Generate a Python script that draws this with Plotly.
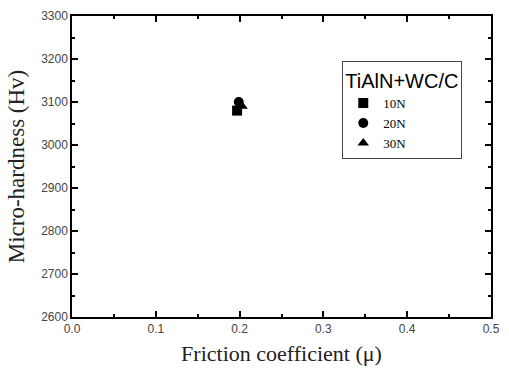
import plotly.graph_objects as go

series_names = ["10N", "20N", "30N"]
friction = [0.197, 0.199, 0.203]
hardness = [3080, 3100, 3090]
symbols = ["square", "circle", "triangle-up"]

x_ticks = [0.0, 0.1, 0.2, 0.3, 0.4, 0.5]
x_labels = ["0.0", "0.1", "0.2", "0.3", "0.4", "0.5"]
y_ticks = [2600, 2700, 2800, 2900, 3000, 3100, 3200, 3300]

fig = go.Figure()
for name, xv, yv, sym in zip(series_names, friction, hardness, symbols):
    fig.add_trace(go.Scatter(
        x=[xv], y=[yv], mode="markers", name=name,
        marker=dict(symbol=sym, size=10, color="black"),
    ))

axis_common = dict(
    showline=True, linecolor="black", linewidth=1.5, mirror="ticks",
    ticks="inside", ticklen=6, tickwidth=1.5, tickcolor="black",
    showgrid=False, zeroline=False,
    tickfont=dict(family="Liberation Sans, Arial", size=12, color="#444"),
)

fig.update_layout(
    width=509, height=371,
    margin=dict(l=72, r=9, t=13, b=53),
    paper_bgcolor="white", plot_bgcolor="white",
    xaxis=dict(
        range=[0, 0.5], tickvals=x_ticks, ticktext=x_labels,
        minor=dict(dtick=0.05, ticks="inside", ticklen=3, tickwidth=1.5, tickcolor="black"),
        title=dict(text="Friction coefficient (μ)", standoff=10,
                   font=dict(family="Liberation Serif, Times New Roman", size=22, color="#222")),
        **axis_common,
    ),
    yaxis=dict(
        range=[2600, 3300], tickvals=y_ticks,
        minor=dict(dtick=50, ticks="inside", ticklen=3, tickwidth=1.5, tickcolor="black"),
        title=dict(text="Micro-hardness (Hv)", standoff=10,
                   font=dict(family="Liberation Serif, Times New Roman", size=23, color="#222")),
        **axis_common,
    ),
    legend=dict(
        x=0.645, y=0.85, xanchor="left", yanchor="top",
        bgcolor="white", bordercolor="#444", borderwidth=1,
        title=dict(text="TiAlN+WC/C", font=dict(family="Liberation Sans, Arial", size=20, color="black")),
        font=dict(family="Liberation Serif, Times New Roman", size=13, color="black"),
        tracegroupgap=0, itemwidth=30,
    ),
)

fig.write_html("out.html")
